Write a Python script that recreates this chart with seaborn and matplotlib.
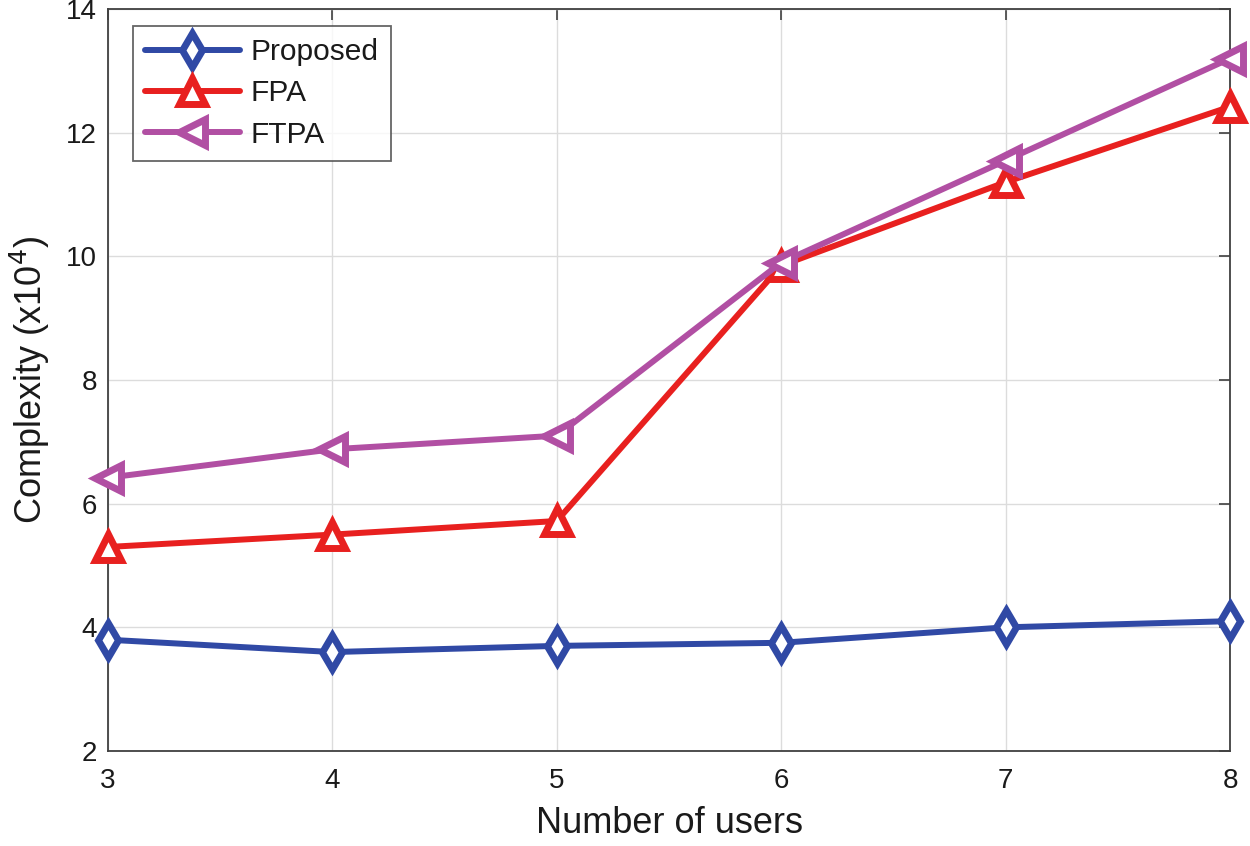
import matplotlib
matplotlib.use("Agg")
import matplotlib.pyplot as plt
import seaborn as sns
import pandas as pd

users = [3, 4, 5, 6, 7, 8]
proposed = [3.8, 3.6, 3.7, 3.75, 4.0, 4.1]
fpa = [5.3, 5.5, 5.72, 9.85, 11.2, 12.42]
ftpa = [6.42, 6.88, 7.1, 9.9, 11.55, 13.2]
series_names = ["Proposed", "FPA", "FTPA"]
y_ticks = [2, 4, 6, 8, 10, 12, 14]

sns.set_style("white")
plt.rcParams['font.family'] = ['Liberation Sans', 'DejaVu Sans']
plt.rcParams['text.color'] = '#1a1a1a'
plt.rcParams['axes.labelcolor'] = '#1a1a1a'
plt.rcParams['xtick.color'] = '#1a1a1a'
plt.rcParams['ytick.color'] = '#1a1a1a'

df = pd.DataFrame({
    "users": users * 3,
    "value": proposed + fpa + ftpa,
    "method": [series_names[0]] * 6 + [series_names[1]] * 6 + [series_names[2]] * 6,
})

fig = plt.figure(figsize=(12.5, 8.46), dpi=100)
ax = fig.add_axes([0.0864, 0.1123, 0.8976, 0.8770])

colors = {"Proposed": "#3049A5", "FPA": "#E8201F", "FTPA": "#B14FA3"}
markers = {"Proposed": "d", "FPA": "^", "FTPA": "<"}
sizes = {"Proposed": 17, "FPA": 19, "FTPA": 19}

for name in series_names:
    sub = df[df["method"] == name]
    sns.lineplot(data=sub, x="users", y="value", ax=ax, color=colors[name],
                 linewidth=4.3, marker=markers[name], markersize=sizes[name],
                 markerfacecolor="white", markeredgecolor=colors[name],
                 markeredgewidth=5.0, label=name, zorder=3, clip_on=False)

ax.set_xlim(3, 8)
ax.set_ylim(2, 14)
ax.set_xticks(users)
ax.set_yticks(y_ticks)
ax.grid(True, color="#DCDCDC", linewidth=1.0)
ax.set_axisbelow(True)
for s in ax.spines.values():
    s.set_color("#404040")
    s.set_linewidth(1.3)
ax.tick_params(direction="in", length=8, width=1.2, color="#404040",
               labelsize=20, pad=8, top=True, right=True)
ax.tick_params(axis="x", pad=12)
ax.set_xlabel("Number of users", fontsize=26, labelpad=9)
ax.set_ylabel("Complexity (x10$^4$)", fontsize=26, labelpad=10)

leg = ax.legend(loc="upper left", fontsize=21.5, frameon=True, fancybox=False,
                edgecolor="#404040", handlelength=3.2, handletextpad=0.35,
                borderpad=0.4, labelspacing=0.45, borderaxespad=0,
                bbox_to_anchor=(0.022, 0.977))
leg.get_frame().set_linewidth(1.3)

fig.savefig("out.png", dpi=100)
